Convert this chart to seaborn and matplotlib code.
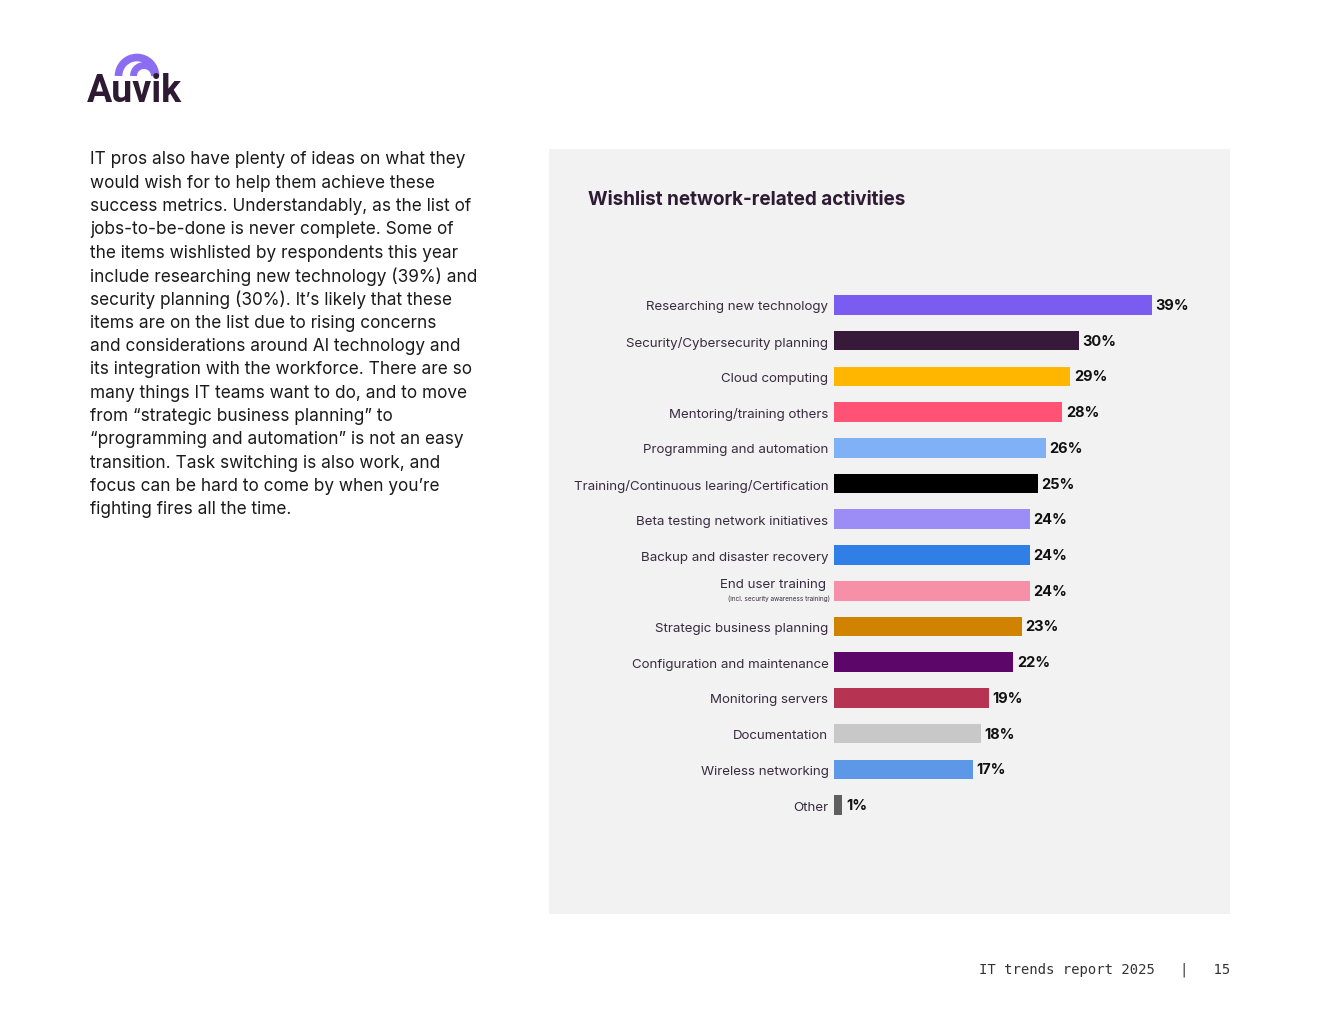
import matplotlib
matplotlib.use("Agg")
import matplotlib.pyplot as plt
import matplotlib.patches as mpatches
import seaborn as sns
import pandas as pd

categories = [
    "Researching new technology",
    "Security/Cybersecurity planning",
    "Cloud computing",
    "Mentoring/training others",
    "Programming and automation",
    "Training/Continuous learing/Certification",
    "Beta testing network initiatives",
    "Backup and disaster recovery",
    "End user training",
    "Strategic business planning",
    "Configuration and maintenance",
    "Monitoring servers",
    "Documentation",
    "Wireless networking",
    "Other",
]
values = [39, 30, 29, 28, 26, 25, 24, 24, 24, 23, 22, 19, 18, 17, 1]
value_labels = ["39%", "30%", "29%", "28%", "26%", "25%", "24%", "24%", "24%",
                "23%", "22%", "19%", "18%", "17%", "1%"]
colors = ["#7B5CF0", "#371A3A", "#FFB600", "#FF5274", "#80B0F5", "#000000",
          "#9B8DF5", "#2F7FE6", "#F590A8", "#D08300", "#5C0669", "#B73352",
          "#C8C8C8", "#5D97E8", "#5F5F5F"]
subnote = "(incl. security awareness training)"

title = "Wishlist network-related activities"
body_lines = [
    "IT pros also have plenty of ideas on what they",
    "would wish for to help them achieve these",
    "success metrics. Understandably, as the list of",
    "jobs-to-be-done is never complete. Some of",
    "the items wishlisted by respondents this year",
    "include researching new technology (39%) and",
    "security planning (30%). It\u2019s likely that these",
    "items are on the list due to rising concerns",
    "and considerations around AI technology and",
    "its integration with the workforce. There are so",
    "many things IT teams want to do, and to move",
    "from \u201cstrategic business planning\u201d to",
    "\u201cprogramming and automation\u201d is not an easy",
    "transition. Task switching is also work, and",
    "focus can be hard to come by when you\u2019re",
    "fighting fires all the time.",
]
footer = "IT trends report 2025   |   15"

sns.set_theme(style="white")
plt.rcParams["font.family"] = ["Inter", "DejaVu Sans"]

W, H = 1320, 1020
fig = plt.figure(figsize=(W / 100, H / 100), dpi=100)
fig.patch.set_facecolor("white")

# background / decoration axes in pixel coordinates
bg = fig.add_axes([0, 0, 1, 1], zorder=0)
bg.set_xlim(0, W)
bg.set_ylim(H, 0)
bg.axis("off")
bg.add_patch(mpatches.Rectangle((549, 150), 681, 765, facecolor="#F2F2F2", edgecolor="none"))

# logo (y axis is flipped, so upper half-arcs are 180..360)
bg.add_patch(mpatches.Arc((137, 77), 37, 37, theta1=180, theta2=360, lw=5.5, color="#8A6DF1",
                          zorder=1))
bg.add_patch(mpatches.Arc((144, 77), 21, 21, theta1=180, theta2=360, lw=5, color="#8A6DF1",
                          zorder=1))
bg.text(87, 102, "Auvik", fontsize=27, fontweight="bold", color="#2E1A33",
        family=["Roboto", "DejaVu Sans"], va="baseline", ha="left", zorder=2)

# body text
for i, line in enumerate(body_lines):
    bg.text(90, 160 + i * 23.33, line, fontsize=12.4, color="#1A1A1A",
            va="center", ha="left", family=["Inter", "DejaVu Sans"])

bg.text(588, 200, title, fontsize=13.6, fontweight="bold", color="#2E1A33",
        va="center", ha="left")
bg.text(1230, 970, footer, fontsize=10, color="#333333", va="center", ha="right",
        family=["DejaVu Sans Mono"])

# chart axes
left_px, right_px = 834, 1230
top_px, bot_px = 288, 824
scale = (1152 - 834) / 39.0
ax = fig.add_axes([left_px / W, 1 - bot_px / H, (right_px - left_px) / W, (bot_px - top_px) / H],
                  zorder=2)
ax.patch.set_alpha(0)

df = pd.DataFrame({"category": categories, "value": values})
sns.barplot(data=df, x="value", y="category", hue="category", palette=colors,
            order=categories, hue_order=categories, legend=False, width=0.55,
            saturation=1, linewidth=0, ax=ax)
ax.set_xlim(0, (right_px - left_px) / scale)
ax.set_ylim(len(categories) - 0.5, -0.5)
for s in ax.spines.values():
    s.set_visible(False)
ax.set_xlabel("")
ax.set_ylabel("")
ax.set_xticks([])
ax.tick_params(axis="y", length=0, pad=4)
ax.set_yticks(range(len(categories)))
ticklabels = [c if c != "End user training" else "" for c in categories]
ax.set_yticklabels(ticklabels, fontsize=9.6, color="#3A2A40")

idx = categories.index("End user training")
ax.text(-0.95, idx - 0.2, "End user training", fontsize=9.6, color="#3A2A40",
        ha="right", va="center")
ax.text(-0.5, idx + 0.2, subnote, fontsize=4.6, color="#3A2A40", ha="right", va="center")

for i, (v, lab) in enumerate(zip(values, value_labels)):
    ax.text(v + 0.45, i, lab, fontsize=10.5, fontweight="bold", color="#111111",
            ha="left", va="center")

fig.savefig("out.png", dpi=100, facecolor="white")
